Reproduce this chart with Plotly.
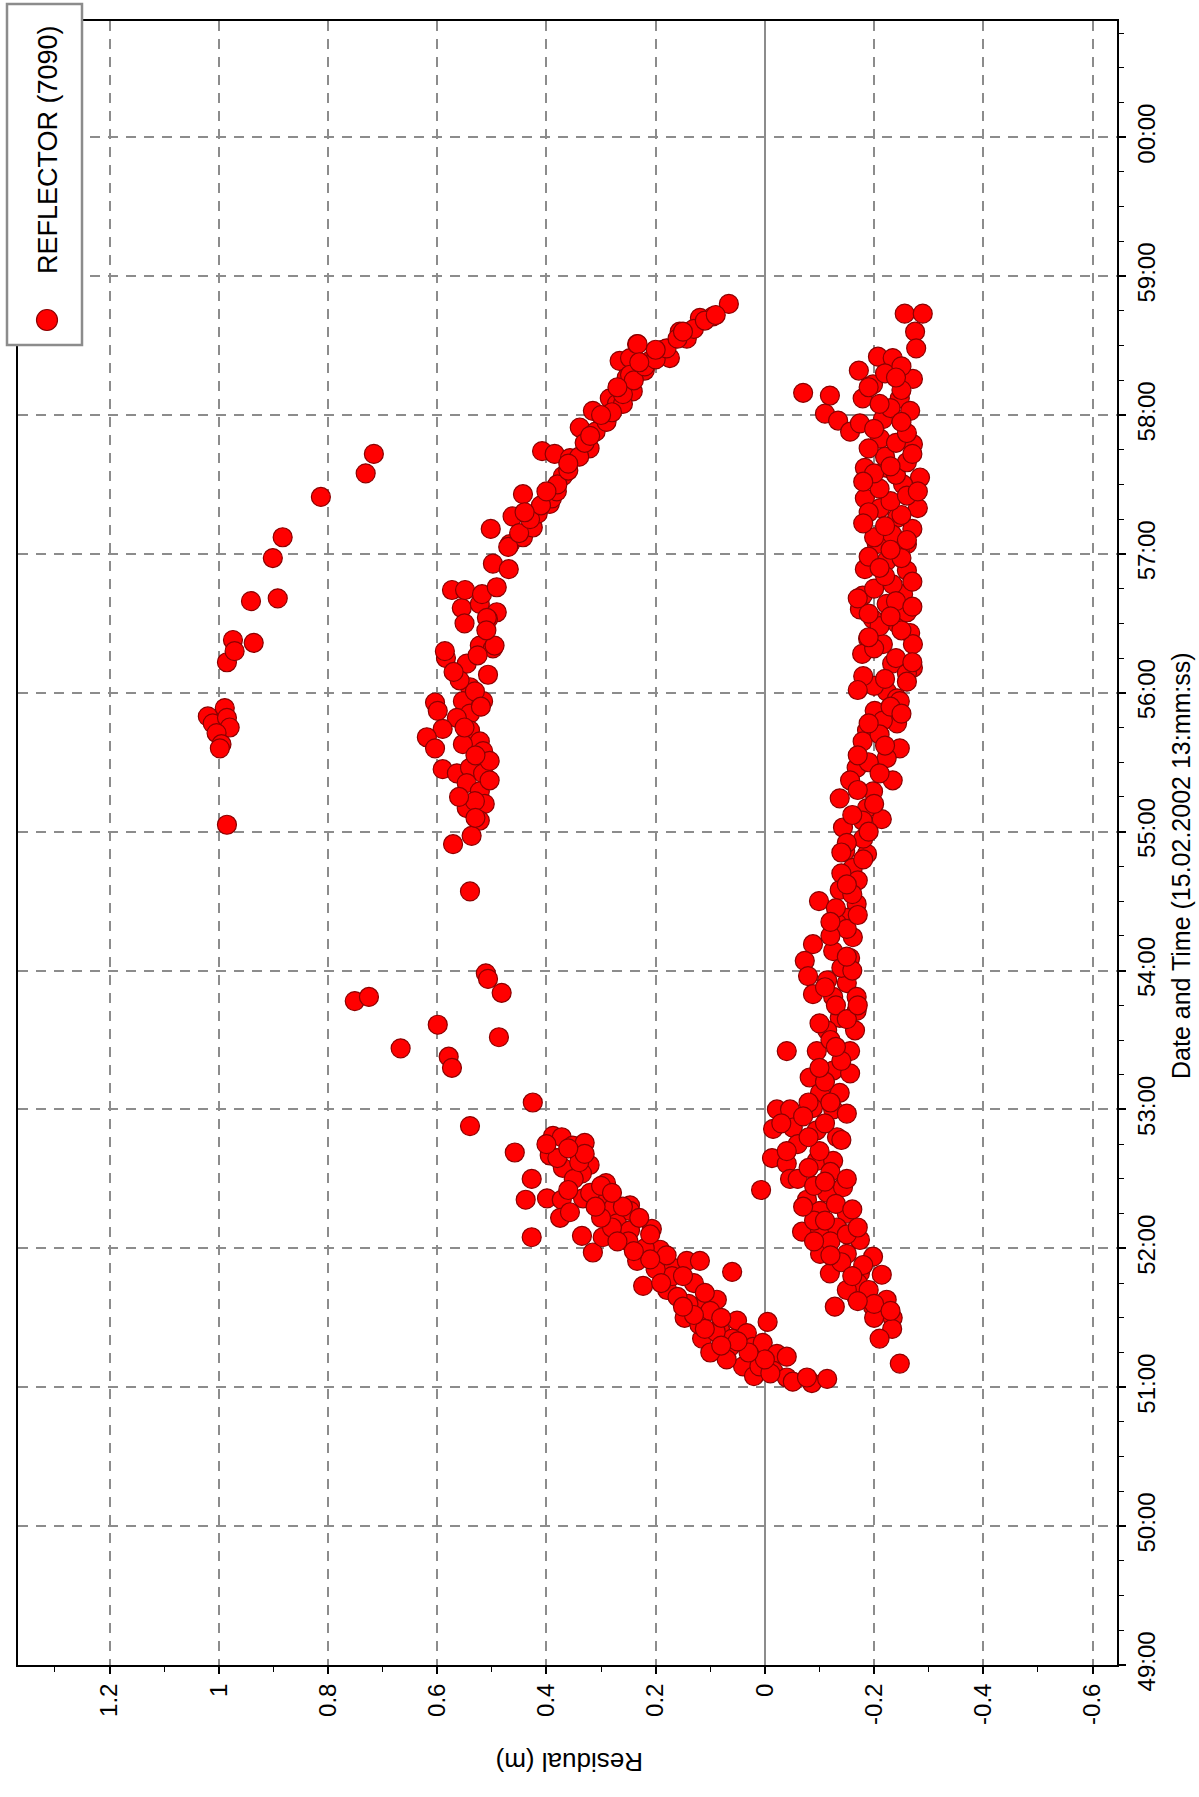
import plotly.graph_objects as go

# ---------------- data (residual in m, time in minutes past 13:00) ----------------
arc_r = [0.985, 0.989, 1.020, 1.011, 0.985, 0.980, 1.004, 0.995, 0.998, 0.974,
         0.936, 0.985, 0.971, 0.941, 0.892, 0.901, 0.883, 0.813, 0.731, 0.716]
arc_t = [55.05, 55.89, 55.83, 55.78, 55.82, 55.75, 55.71, 55.63, 55.60, 56.38,
         56.36, 56.22, 56.30, 56.66, 56.68, 56.97, 57.12, 57.41, 57.58, 57.72]

sparse_r = [0.751, 0.725, 0.511, 0.507, 0.482, 0.599, 0.487, 0.667, 0.579, 0.573, 0.540, 0.540]
sparse_t = [53.78, 53.81, 53.98, 53.94, 53.84, 53.61, 53.52, 53.44, 53.38, 53.30, 52.88, 54.57]

mid_r = [0.555, 0.522, 0.491, 0.507, 0.522, 0.498, 0.584, 0.546, 0.507, 0.540,
         0.516, 0.604, 0.553, 0.599, 0.540, 0.564, 0.590, 0.619, 0.604, 0.540,
         0.522, 0.516, 0.553, 0.590, 0.564, 0.540, 0.516, 0.546, 0.522, 0.546,
         0.513, 0.522, 0.537, 0.571, 0.573, 0.549, 0.518, 0.491, 0.509, 0.495,
         0.586, 0.531, 0.504, 0.531, 0.504, 0.559, 0.526,
         0.53, 0.55, 0.52, 0.57, 0.51, 0.55, 0.53, 0.56]
mid_t = [56.61, 56.64, 56.58, 56.53, 56.34, 56.32, 56.25, 56.21, 56.13, 56.04,
         55.94, 55.93, 55.94, 55.87, 55.85, 55.82, 55.74, 55.68, 55.60, 55.73,
         55.65, 55.58, 55.63, 55.45, 55.42, 55.46, 55.42, 55.35, 55.29, 55.17,
         55.20, 55.08, 54.97, 54.91, 56.74, 56.74, 56.71, 56.76, 56.54, 56.34,
         56.30, 56.01, 55.51, 55.22, 55.37, 56.09, 56.27,
         55.55, 55.75, 55.90, 56.15, 56.45, 56.50, 55.10, 55.25]

rise_r = [0.425, 0.458, 0.427, 0.438, 0.427, 0.388, 0.372, 0.352, 0.330, 0.394,
          0.370, 0.321, 0.335, 0.291, 0.399, 0.372, 0.333, 0.289, 0.247, 0.375,
          0.357, 0.335, 0.315, 0.297, 0.278, 0.247, 0.271, 0.247, 0.207, 0.234,
          0.223, 0.192, 0.168, 0.143, 0.119, 0.179, 0.147, 0.119, 0.088, 0.060,
          0.115, 0.082, 0.051, 0.033, 0.064, 0.022, -0.005, 0.004, -0.022, -0.040,
          0.004, -0.015, -0.040, -0.051, -0.086, -0.114, -0.077,
          0.04, 0.07, 0.10, 0.06, 0.09, 0.12, 0.10, 0.14, 0.16, 0.13,
          0.17, 0.20, 0.18, 0.22, 0.25, 0.21, 0.28, 0.30, 0.26, 0.32,
          0.35, 0.30, 0.38, 0.34, 0.02, 0.01, -0.01,
          0.00, 0.03, 0.05, 0.08, 0.11, 0.08, 0.13, 0.15, 0.11, 0.19,
          0.15, 0.21, 0.24, 0.27, 0.23, 0.31, 0.28, 0.36, 0.33, 0.36, 0.40]
rise_t = [53.05, 52.69, 52.50, 52.35, 52.08, 52.81, 52.80, 52.74, 52.76, 52.67,
          52.58, 52.60, 52.54, 52.47, 52.36, 52.35, 52.36, 52.35, 52.31, 52.22,
          52.26, 52.09, 51.97, 52.08, 52.29, 52.27, 52.18, 52.13, 52.14, 51.91,
          51.73, 51.99, 51.86, 51.91, 51.91, 51.70, 51.50, 51.58, 51.63, 51.83,
          51.35, 51.41, 51.48, 51.39, 51.29, 51.29, 51.47, 51.32, 51.24, 51.22,
          51.17, 51.12, 51.07, 51.04, 51.03, 51.06, 51.07,
          51.15, 51.20, 51.25, 51.35, 51.40, 51.45, 51.55, 51.60, 51.65, 51.75,
          51.80, 51.85, 51.95, 52.00, 52.05, 52.10, 52.15, 52.22, 52.30, 52.40,
          52.50, 52.45, 52.65, 52.62, 51.08, 51.15, 51.10,
          51.20, 51.25, 51.33, 51.30, 51.42, 51.50, 51.52, 51.58, 51.68, 51.75,
          51.80, 51.92, 51.98, 52.05, 52.22, 52.30, 52.40, 52.42, 52.68, 52.72, 52.75]

fall_r = [0.502, 0.498, 0.469, 0.467, 0.462, 0.443, 0.443, 0.425, 0.416, 0.394,
          0.390, 0.408, 0.385, 0.370, 0.381, 0.357, 0.339, 0.321, 0.315, 0.297,
          0.284, 0.271, 0.266, 0.247, 0.234, 0.253, 0.242, 0.233, 0.247, 0.220,
          0.260, 0.187, 0.174, 0.156, 0.143, 0.119, 0.095, 0.066, 0.211,
          0.47, 0.45, 0.43, 0.41, 0.38, 0.36, 0.34, 0.33, 0.31, 0.29,
          0.28, 0.26, 0.24, 0.22, 0.20, 0.18, 0.16, 0.13, 0.11, 0.09,
          0.44, 0.40, 0.36, 0.32, 0.30, 0.27, 0.23, 0.20, 0.15]
fall_t = [57.18, 56.93, 56.89, 57.07, 57.27, 57.43, 57.12, 57.19, 57.29, 57.36,
          57.40, 57.74, 57.72, 57.56, 57.45, 57.69, 57.91, 57.76, 58.03, 57.98,
          58.12, 58.08, 58.39, 58.41, 58.51, 58.27, 58.17, 58.51, 58.29, 58.32,
          58.08, 58.47, 58.41, 58.60, 58.55, 58.70, 58.71, 58.80, 58.39,
          57.05, 57.15, 57.25, 57.35, 57.50, 57.60, 57.70, 57.80, 57.88, 57.95,
          58.02, 58.15, 58.25, 58.35, 58.40, 58.48, 58.55, 58.62, 58.68, 58.72,
          57.30, 57.45, 57.65, 57.85, 58.00, 58.20, 58.38, 58.47, 58.60]

right_r = [-0.256, -0.289, -0.275, -0.277, -0.207, -0.234, -0.172, -0.198, -0.271, -0.070,
           -0.119, -0.110, -0.134, -0.156, -0.174, -0.216, -0.247, -0.266, -0.179, -0.271,
           -0.211, -0.183, -0.284, -0.223, -0.253, -0.183, -0.211, -0.280, -0.242, -0.205,
           -0.260, -0.233, -0.183, -0.260, -0.223, -0.179, -0.253, -0.174, -0.223, -0.198,
           -0.266, -0.189, -0.178, -0.233, -0.271, -0.260, -0.223, -0.242, -0.247, -0.234,
           -0.242, -0.271, -0.216,
           -0.247, -0.201, -0.242, -0.187, -0.216, -0.247, -0.179, -0.223, -0.168, -0.234,
           -0.156, -0.137, -0.198, -0.187, -0.214, -0.143, -0.179, -0.147, -0.187, -0.161,
           -0.137, -0.168, -0.099, -0.150, -0.132, -0.161, -0.088, -0.125, -0.073, -0.156,
           -0.079, -0.114, -0.150, -0.088, -0.125, -0.168, -0.168, -0.137, -0.114, -0.165,
           -0.040, -0.095, -0.156, -0.082, -0.125, -0.156, -0.101, -0.137,
           -0.022, -0.046, -0.088, -0.125, -0.150, -0.015, -0.051, -0.095, -0.132, -0.013,
           -0.040, -0.046, -0.095, -0.125, 0.007, -0.077, -0.114, -0.143, -0.150, -0.101,
           -0.068, -0.101, -0.132, -0.174, -0.101, -0.150, -0.198, -0.119, -0.174, -0.214,
           -0.128, -0.168, -0.198, -0.223, -0.234, -0.233, -0.247,
           -0.20, -0.26, -0.18, -0.24, -0.20, -0.25, -0.21, -0.19, -0.26, -0.24,
           -0.20, -0.27, -0.22, -0.19, -0.25, -0.23, -0.20, -0.27, -0.22, -0.25,
           -0.19, -0.23, -0.26, -0.21, -0.24, -0.20, -0.26, -0.22, -0.24, -0.26,
           -0.20, -0.23, -0.25, -0.22, -0.25,
           -0.19, -0.21, -0.23, -0.17, -0.20, -0.16, -0.18, -0.15, -0.17, -0.14,
           -0.16, -0.13, -0.15, -0.14, -0.12, -0.16, -0.13, -0.15, -0.12, -0.10,
           -0.14, -0.11, -0.08, -0.12,
           -0.03, -0.07, -0.11, -0.06, -0.10, -0.12, -0.06, -0.09, -0.13, -0.09,
           -0.12, -0.15, -0.14, -0.17, -0.15, -0.19, -0.20, -0.21,
           -0.17, -0.22, -0.27, -0.19, -0.23, -0.27, -0.17, -0.21, -0.26, -0.18,
           -0.28, -0.18, -0.23, -0.27, -0.19, -0.25, -0.21, -0.19, -0.24,
           -0.08, -0.14, -0.04, -0.08, -0.15, -0.11, -0.07, -0.16, -0.11, -0.17,
           -0.09, -0.12, -0.18, -0.16, -0.20, -0.23, -0.17,
           -0.10, -0.13, -0.17, -0.11, -0.15, -0.12, -0.17, -0.15, -0.18, -0.14,
           -0.19, -0.17, -0.21, -0.22, -0.19, -0.25]
right_t = [58.73, 58.73, 58.60, 58.48, 58.42, 58.41, 58.32, 58.22, 58.26, 58.16,
           58.14, 58.01, 57.96, 57.88, 57.94, 57.97, 58.12, 58.03, 58.12, 57.79,
           57.83, 57.62, 57.55, 57.62, 57.50, 57.40, 57.33, 57.33, 57.26, 57.07,
           57.07, 57.14, 56.89, 56.88, 56.95, 56.70, 56.71, 56.60, 56.64, 56.53,
           56.43, 56.39, 56.28, 56.21, 56.18, 56.14, 56.01, 55.96, 57.02, 56.78,
           56.50, 56.35, 56.35,
           55.94, 55.87, 55.78, 55.73, 55.80, 55.60, 55.65, 55.53, 55.46, 55.37,
           55.37, 55.24, 55.29, 55.17, 55.09, 55.03, 55.08, 54.86, 54.84, 54.74,
           54.58, 54.48, 54.50, 54.38, 54.34, 54.24, 54.19, 54.14, 54.07, 54.09,
           53.96, 53.93, 53.91, 53.83, 53.81, 53.81, 53.71, 53.66, 53.57, 53.57,
           53.42, 53.42, 53.42, 53.23, 53.28, 53.26, 53.12, 53.12,
           53.00, 53.00, 53.01, 53.00, 52.97, 52.86, 52.87, 52.85, 52.80, 52.65,
           52.61, 52.50, 52.63, 52.63, 52.42, 52.35, 52.40, 52.44, 52.25, 52.27,
           52.12, 52.13, 52.15, 52.06, 51.96, 51.96, 51.94, 51.82, 51.82, 51.81,
           51.58, 51.65, 51.58, 51.63, 51.50, 51.42, 51.17,
           56.05, 56.08, 56.12, 56.25, 56.32, 56.45, 56.48, 56.57, 56.58, 56.66,
           56.75, 56.80, 56.84, 56.98, 56.97, 57.03, 57.12, 57.18, 57.20, 57.28,
           57.30, 57.38, 57.42, 57.47, 57.57, 57.58, 57.66, 57.70, 57.80, 57.87,
           57.90, 58.05, 58.18, 58.30, 58.35,
           55.50, 55.70, 55.90, 55.55, 55.20, 55.12, 54.95, 54.92, 54.65, 54.70,
           54.55, 54.45, 54.30, 54.02, 54.25, 54.00, 53.75, 53.65, 53.50, 53.62,
           53.35, 53.20, 53.05, 53.05,
           52.90, 52.95, 52.90, 52.75, 52.70, 52.55, 52.50, 52.45, 52.32, 52.20,
           52.05, 52.10, 51.90, 51.75, 51.70, 51.70, 51.50, 51.35,
           56.02, 56.10, 56.22, 56.40, 56.55, 56.62, 56.68, 56.90, 57.10, 57.22,
           57.45, 57.52, 57.63, 57.72, 57.76, 57.95, 58.08, 58.20, 58.27,
           52.80, 52.78, 52.70, 52.58, 52.50, 52.48, 52.30, 52.28, 52.20, 52.15,
           52.05, 51.95, 51.88, 51.80, 51.60, 51.55, 51.62,
           53.30, 53.45, 53.75, 53.88, 54.10, 54.35, 54.40, 54.62, 54.80, 54.85,
           55.00, 55.30, 55.42, 55.62, 55.78, 55.85]

residual_ticks = [1.2, 1.0, 0.8, 0.6, 0.4, 0.2, 0.0, -0.2, -0.4, -0.6]
residual_labels = ["1.2", "1", "0.8", "0.6", "0.4", "0.2", "0", "-0.2", "-0.4", "-0.6"]
time_ticks = [49, 50, 51, 52, 53, 54, 55, 56, 57, 58, 59, 60]
time_labels = ["49:00", "50:00", "51:00", "52:00", "53:00", "54:00",
               "55:00", "56:00", "57:00", "58:00", "59:00", "00:00"]

series_name = "REFLECTOR (7090)"
x_title = "Residual (m)"
y_title = "Date and Time (15.02.2002 13:mm:ss)"

# ---------------- figure ----------------
all_r = arc_r + sparse_r + mid_r + rise_r + fall_r + right_r
all_t = arc_t + sparse_t + mid_t + rise_t + fall_t + right_t

FONT = "Liberation Sans, Arial, sans-serif"
RED = "#ff0000"
EDGE = "#8b0000"
GRID = "#8c8c8c"

fig = go.Figure()
fig.add_trace(go.Scatter(
    x=all_r, y=all_t, mode="markers", name=series_name,
    marker=dict(size=19, color=RED, line=dict(color=EDGE, width=1.2)),
    showlegend=False,
))

W, H = 1199, 1797
L, R, T, B = 18, 82, 21, 132
pw, ph = W - L - R, H - T - B

def px_x(p):
    return (p - L) / pw

def px_y(p):
    return (H - B - p) / ph

fig.update_layout(
    width=W, height=H,
    margin=dict(l=L, r=R, t=T, b=B, pad=0),
    paper_bgcolor="white", plot_bgcolor="white",
    font=dict(family=FONT, size=24, color="black"),
    showlegend=False,
)

fig.update_xaxes(
    range=[1.3676, -0.6447],
    tickmode="array", tickvals=residual_ticks, ticktext=residual_labels,
    tickangle=-90, tickfont=dict(size=24, family=FONT, color="black"),
    ticks="outside", ticklen=7, tickwidth=1.5, tickcolor="black",
    minor=dict(tickmode="linear", tick0=0, dtick=0.1, ticks="outside", ticklen=5,
               tickwidth=1.2, tickcolor="black", showgrid=False),
    showgrid=True, gridcolor=GRID, gridwidth=2, griddash="10px,8px",
    zeroline=True, zerolinecolor=GRID, zerolinewidth=2,
    showline=True, linecolor="black", linewidth=2, mirror=True,
    automargin=False,
)
fig.update_yaxes(
    range=[49, 60.837], side="right",
    tickmode="array", tickvals=time_ticks, ticktext=time_labels,
    tickangle=-90, tickfont=dict(size=24, family=FONT, color="black"),
    ticks="outside", ticklen=7, tickwidth=1.5, tickcolor="black",
    minor=dict(tickmode="linear", tick0=49, dtick=0.25, ticks="outside", ticklen=5,
               tickwidth=1.2, tickcolor="black", showgrid=False),
    showgrid=True, gridcolor=GRID, gridwidth=2, griddash="10px,8px",
    zeroline=False,
    showline=True, linecolor="black", linewidth=2, mirror=True,
    automargin=False,
)

# axis titles (rotated as in the reference)
fig.add_annotation(text=x_title, xref="paper", yref="paper",
                   x=px_x(570), y=px_y(1762), showarrow=False, textangle=180,
                   xanchor="center", yanchor="middle",
                   font=dict(size=26, family=FONT, color="black"))
fig.add_annotation(text=y_title, xref="paper", yref="paper",
                   x=px_x(1181), y=px_y(866), showarrow=False, textangle=-90,
                   xanchor="center", yanchor="middle",
                   font=dict(size=25, family=FONT, color="black"))

# legend box
fig.add_shape(type="rect", xref="paper", yref="paper",
              x0=px_x(7), x1=px_x(82), y0=px_y(345), y1=px_y(4),
              fillcolor="white", line=dict(color="#8c8c8c", width=2.5), layer="above")
fig.add_shape(type="circle", xref="paper", yref="paper",
              x0=px_x(36.5), x1=px_x(57.5), y0=px_y(330.5), y1=px_y(309.5),
              fillcolor=RED, line=dict(color=EDGE, width=1.2), layer="above")
fig.add_annotation(text=series_name, xref="paper", yref="paper",
                   x=px_x(48), y=px_y(150), showarrow=False, textangle=-90,
                   xanchor="center", yanchor="middle",
                   font=dict(size=27, family=FONT, color="black"))

fig.write_html("out.html")
